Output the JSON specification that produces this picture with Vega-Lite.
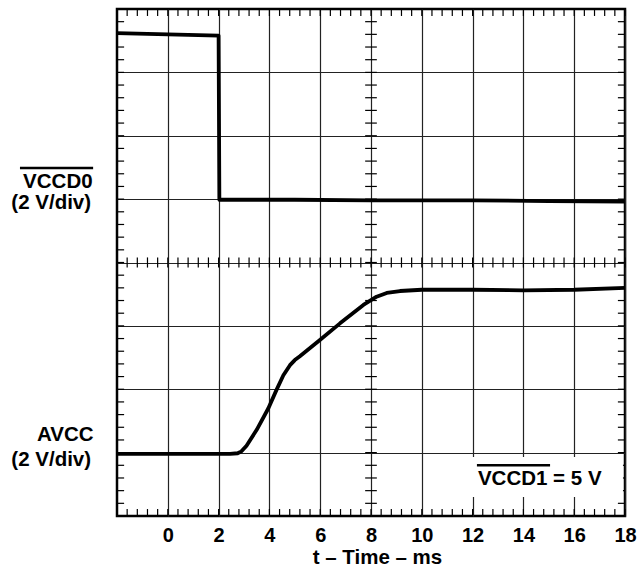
{
  "$schema": "https://vega.github.io/schema/vega-lite/v6.json",
  "width": 508,
  "height": 507,
  "autosize": "none",
  "padding": {"left": 117, "top": 9, "right": 17, "bottom": 55},
  "background": "white",
  "config": {
    "view": {"stroke": "black", "strokeWidth": 2.5},
    "font": "Liberation Sans",
    "text": {"font": "Liberation Sans", "fontWeight": "bold", "fontSize": 20.5, "color": "black"}
  },
  "datasets": {
    "sig": [
      {"s": "VCCD0", "t": -2, "v": 7.62},
      {"s": "VCCD0", "t": 0, "v": 7.6},
      {"s": "VCCD0", "t": 2.0, "v": 7.58},
      {"s": "VCCD0", "t": 2.03, "v": 4.99},
      {"s": "VCCD0", "t": 5, "v": 4.99},
      {"s": "VCCD0", "t": 8, "v": 4.98},
      {"s": "VCCD0", "t": 12, "v": 4.98},
      {"s": "VCCD0", "t": 15, "v": 4.97},
      {"s": "VCCD0", "t": 18, "v": 4.96},
      {"s": "AVCC", "t": -2, "v": 0.98},
      {"s": "AVCC", "t": 2.45, "v": 0.98},
      {"s": "AVCC", "t": 2.75, "v": 0.99},
      {"s": "AVCC", "t": 2.9, "v": 1.02},
      {"s": "AVCC", "t": 3.1, "v": 1.11},
      {"s": "AVCC", "t": 3.5, "v": 1.36},
      {"s": "AVCC", "t": 3.96, "v": 1.7},
      {"s": "AVCC", "t": 4.28, "v": 1.99},
      {"s": "AVCC", "t": 4.55, "v": 2.22},
      {"s": "AVCC", "t": 4.81, "v": 2.38},
      {"s": "AVCC", "t": 5.0, "v": 2.46},
      {"s": "AVCC", "t": 5.2, "v": 2.52},
      {"s": "AVCC", "t": 6.0, "v": 2.78},
      {"s": "AVCC", "t": 6.78, "v": 3.04},
      {"s": "AVCC", "t": 7.7, "v": 3.33},
      {"s": "AVCC", "t": 8.22, "v": 3.46},
      {"s": "AVCC", "t": 8.62, "v": 3.52},
      {"s": "AVCC", "t": 9.14, "v": 3.55},
      {"s": "AVCC", "t": 10, "v": 3.57},
      {"s": "AVCC", "t": 12, "v": 3.57},
      {"s": "AVCC", "t": 14, "v": 3.56},
      {"s": "AVCC", "t": 16, "v": 3.57},
      {"s": "AVCC", "t": 18, "v": 3.6}
    ],
    "xticks": [
      {"t": -2}, {"t": -1.6}, {"t": -1.2}, {"t": -0.8}, {"t": -0.4},
      {"t": 0}, {"t": 0.4}, {"t": 0.8}, {"t": 1.2}, {"t": 1.6},
      {"t": 2}, {"t": 2.4}, {"t": 2.8}, {"t": 3.2}, {"t": 3.6},
      {"t": 4}, {"t": 4.4}, {"t": 4.8}, {"t": 5.2}, {"t": 5.6},
      {"t": 6}, {"t": 6.4}, {"t": 6.8}, {"t": 7.2}, {"t": 7.6},
      {"t": 8}, {"t": 8.4}, {"t": 8.8}, {"t": 9.2}, {"t": 9.6},
      {"t": 10}, {"t": 10.4}, {"t": 10.8}, {"t": 11.2}, {"t": 11.6},
      {"t": 12}, {"t": 12.4}, {"t": 12.8}, {"t": 13.2}, {"t": 13.6},
      {"t": 14}, {"t": 14.4}, {"t": 14.8}, {"t": 15.2}, {"t": 15.6},
      {"t": 16}, {"t": 16.4}, {"t": 16.8}, {"t": 17.2}, {"t": 17.6},
      {"t": 18}
    ],
    "yticks": [
      {"v": 0}, {"v": 0.2}, {"v": 0.4}, {"v": 0.6}, {"v": 0.8},
      {"v": 1}, {"v": 1.2}, {"v": 1.4}, {"v": 1.6}, {"v": 1.8},
      {"v": 2}, {"v": 2.2}, {"v": 2.4}, {"v": 2.6}, {"v": 2.8},
      {"v": 3}, {"v": 3.2}, {"v": 3.4}, {"v": 3.6}, {"v": 3.8},
      {"v": 4}, {"v": 4.2}, {"v": 4.4}, {"v": 4.6}, {"v": 4.8},
      {"v": 5}, {"v": 5.2}, {"v": 5.4}, {"v": 5.6}, {"v": 5.8},
      {"v": 6}, {"v": 6.2}, {"v": 6.4}, {"v": 6.6}, {"v": 6.8},
      {"v": 7}, {"v": 7.2}, {"v": 7.4}, {"v": 7.6}, {"v": 7.8},
      {"v": 8}
    ]
  },
  "layer": [
    {
      "data": {"name": "sig"},
      "mark": {"type": "line", "color": "black", "strokeWidth": 3.8, "clip": true, "strokeJoin": "round", "strokeCap": "butt"},
      "encoding": {
        "x": {
          "field": "t", "type": "quantitative",
          "scale": {"domain": [-2, 18], "nice": false, "zero": false},
          "axis": {
            "values": [0, 2, 4, 6, 8, 10, 12, 14, 16, 18],
            "grid": true, "gridColor": "#222", "gridWidth": 1.2, "gridOpacity": 1,
            "domain": false, "ticks": false,
            "labelFont": "Liberation Sans", "labelFontWeight": "bold", "labelFontSize": 20, "labelColor": "black",
            "labelPadding": 9, "labelFlush": false, "labelOverlap": false,
            "title": "t \u2013 Time \u2013 ms",
            "titleFont": "Liberation Sans", "titleFontWeight": "bold", "titleFontSize": 20.5, "titleColor": "black",
            "titlePadding": 2, "titleX": 260
          }
        },
        "y": {
          "field": "v", "type": "quantitative",
          "scale": {"domain": [0, 8], "nice": false, "zero": false},
          "axis": {
            "values": [1, 2, 3, 4, 5, 6, 7],
            "grid": true, "gridColor": "#222", "gridWidth": 1.2, "gridOpacity": 1,
            "domain": false, "ticks": false, "labels": false, "title": null
          }
        },
        "detail": {"field": "s"}
      }
    },
    {
      "data": {"name": "xticks"},
      "mark": {"type": "rule", "color": "black", "strokeWidth": 1.2},
      "encoding": {"x": {"field": "t", "type": "quantitative"}, "y": {"datum": 8, "type": "quantitative"}, "y2": {"datum": 7.89}}
    },
    {
      "data": {"name": "xticks"},
      "mark": {"type": "rule", "color": "black", "strokeWidth": 1.2},
      "encoding": {"x": {"field": "t", "type": "quantitative"}, "y": {"datum": 0, "type": "quantitative"}, "y2": {"datum": 0.11}}
    },
    {
      "data": {"name": "xticks"},
      "mark": {"type": "rule", "color": "black", "strokeWidth": 1.2},
      "encoding": {"x": {"field": "t", "type": "quantitative"}, "y": {"datum": 3.92, "type": "quantitative"}, "y2": {"datum": 4.08}}
    },
    {
      "data": {"name": "yticks"},
      "mark": {"type": "rule", "color": "black", "strokeWidth": 1.2},
      "encoding": {"y": {"field": "v", "type": "quantitative"}, "x": {"datum": -2, "type": "quantitative"}, "x2": {"datum": -1.72}}
    },
    {
      "data": {"name": "yticks"},
      "mark": {"type": "rule", "color": "black", "strokeWidth": 1.2},
      "encoding": {"y": {"field": "v", "type": "quantitative"}, "x": {"datum": 18, "type": "quantitative"}, "x2": {"datum": 17.72}}
    },
    {
      "data": {"name": "yticks"},
      "mark": {"type": "rule", "color": "black", "strokeWidth": 1.2},
      "encoding": {"y": {"field": "v", "type": "quantitative"}, "x": {"datum": 7.77, "type": "quantitative"}, "x2": {"datum": 8.23}}
    },
    {
      "data": {"values": [{}]},
      "mark": {"type": "rect", "fill": "white"},
      "encoding": {"x": {"datum": 11.8, "type": "quantitative"}, "x2": {"datum": 17.92}, "y": {"datum": 0.3, "type": "quantitative"}, "y2": {"datum": 0.93}}
    },
    {
      "data": {"values": [{}]},
      "mark": {"type": "text", "text": "VCCD1 = 5 V", "align": "left", "baseline": "middle"},
      "encoding": {"x": {"datum": 12.21, "type": "quantitative"}, "y": {"datum": 0.58, "type": "quantitative"}}
    },
    {
      "data": {"values": [{}]},
      "mark": {"type": "rule", "color": "black", "strokeWidth": 2.5},
      "encoding": {"x": {"datum": 12.17, "type": "quantitative"}, "x2": {"datum": 15.05}, "y": {"datum": 0.8, "type": "quantitative"}}
    },
    {
      "data": {"values": [{}]},
      "mark": {"type": "text", "text": "VCCD0", "align": "right", "baseline": "middle"},
      "encoding": {"x": {"datum": -2.96, "type": "quantitative"}, "y": {"datum": 5.27, "type": "quantitative"}}
    },
    {
      "data": {"values": [{}]},
      "mark": {"type": "rule", "color": "black", "strokeWidth": 2.5},
      "encoding": {"x": {"datum": -5.82, "type": "quantitative"}, "x2": {"datum": -2.94}, "y": {"datum": 5.49, "type": "quantitative"}}
    },
    {
      "data": {"values": [{}]},
      "mark": {"type": "text", "text": "(2 V/div)", "align": "right", "baseline": "middle"},
      "encoding": {"x": {"datum": -3.02, "type": "quantitative"}, "y": {"datum": 4.94, "type": "quantitative"}}
    },
    {
      "data": {"values": [{}]},
      "mark": {"type": "text", "text": "AVCC", "align": "right", "baseline": "middle"},
      "encoding": {"x": {"datum": -2.92, "type": "quantitative"}, "y": {"datum": 1.28, "type": "quantitative"}}
    },
    {
      "data": {"values": [{}]},
      "mark": {"type": "text", "text": "(2 V/div)", "align": "right", "baseline": "middle"},
      "encoding": {"x": {"datum": -3.02, "type": "quantitative"}, "y": {"datum": 0.88, "type": "quantitative"}}
    }
  ]
}
